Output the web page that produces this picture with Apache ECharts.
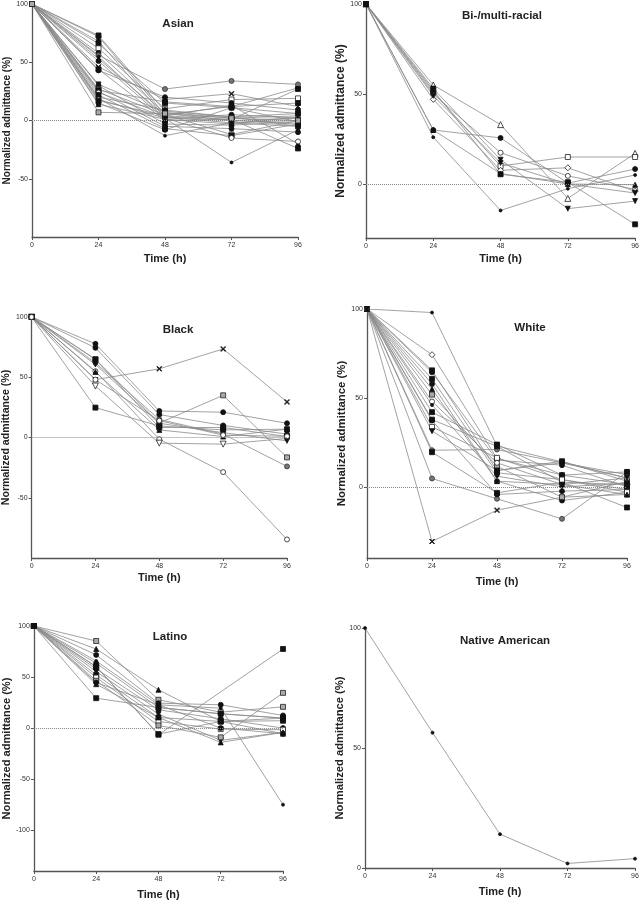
<!DOCTYPE html>
<html>
<head>
<meta charset="utf-8">
<script src="https://cdn.jsdelivr.net/npm/echarts@6/dist/echarts.min.js"></script>
<style>
html, body { margin: 0; padding: 0; background: #fff; }
#main { width: 642px; height: 902px; }
</style>
</head>
<body>
<div id="main"></div>
<script>
// time points (h)
var hours = [0, 24, 48, 72, 96];

// one row per subject: values at 0, 24, 48, 72, 96 h
var asian = [
    [100, 72, 5, 12, 28], [100, 73, 8, 3, -5], [100, 68, 3, -2, 0], [100, 66, 15, 11, 6],
    [100, 62, 10, 18, 19], [100, 58, 6, 0, -3], [100, 56, 27, 34, 31], [100, 55, 2, -36, -8],
    [100, 53, 4, 13, -20], [100, 51, 1, 5, 2], [100, 46, 18, 23, 12], [100, 44, 0, 1, -24],
    [100, 43, 20, 15, 9], [100, 31, 7, 2, 4], [100, 30, -3, -4, -1], [100, 27, 5, -12, 0],
    [100, 26, 16, 12, 15], [100, 25, -5, -7, -10], [100, 24, 3, 0, 2], [100, 22, -7, -13, -3],
    [100, 20, 9, 3, 6], [100, 19, -13, -2, -5], [100, 18, 2, -15, -18], [100, 17, 4, 1, 27],
    [100, 15, -8, 11, -1], [100, 14, 1, -3, 3], [100, 7, 6, 2, 0]
];
var asianMarks = ['dot', 'sq', 'dot', 'sq', 'osq', 'dot', 'gdot', 'star', 'tri', 'dot', 'x', 'sq',
    'dot', 'inv', 'dot', 'xsq', 'sq', 'dot', 'odot', 'sq', 'dot', 'star', 'odot', 'sq', 'dot', 'tri', 'xsq'];

var multi = [
    [100, 55, 33, -8, 17], [100, 30, 25.6, 0.5, 8.3], [100, 50, 17.4, 4.5, -3],
    [100, 53, 13.5, -13.7, -9.5], [100, 51, 10, 15, 15], [100, 47, 7.6, 9, -4],
    [100, 52, 5.4, 1, -22.4], [100, 26, -14.7, -2.6, 5], [100, 30, 5.8, 0, -0.4],
    [100, 49, 11.7, 0, -5]
];
var multiMarks = ['otri', 'dot', 'odot', 'inv', 'osq', 'odia', 'sq', 'star', 'tri', 'inv'];

var black = [
    [100, 48, 57, 73.5, 29.5], [100, 65, 12, 35, -16.5], [100, 77.7, 22, 21, 11.8],
    [100, 55, -1.4, -28.7, -84.6], [100, 42.7, -4.7, -5.5, -0.8], [100, 24.8, 9.6, 6.3, 6.9],
    [100, 62, 15, 2.8, -24], [100, 74.4, 19, 10, 2.8], [100, 64.7, 8.3, 8.3, 0.8],
    [100, 60.6, 11.8, 4, -2.8], [100, 54.4, 6.3, 0.8, 6.9], [100, 48, 14, 2, 1]
];
var blackMarks = ['x', 'xsq', 'dot', 'odot', 'oinv', 'sq', 'gdot', 'dot', 'sq', 'inv', 'tri', 'odot'];

var white = [
    [100, 98, 23, 14, 5], [100, -30.7, -13.1, -5.8, 3], [100, 74.3, 16, 6.6, 1.3],
    [100, 4.7, -6.7, -18, 8.4], [100, 20.6, 21, 13.5, 6.9], [100, 19.5, -3.4, 2.6, -11.6],
    [100, 65.5, 9.2, 14.4, 3.2], [100, 64.4, 15, 12.2, 0], [100, 60.7, 7.9, 4.1, -1.5],
    [100, 57.9, 3.2, -7.7, -3], [100, 51.9, 11.6, -5.8, -4.3], [100, 48, 13.5, 1.3, 5],
    [100, 46, 6, 0, 2], [100, 42, 23.8, 6.6, 8.4], [100, 37.8, 22.8, 2.6, 1.3],
    [100, 37.3, -4.3, -2.4, -1.5], [100, 33.7, 16.3, 4.1, -3], [100, 31.3, 9.2, 13.5, 5],
    [100, 55, 3.2, 1.3, -4.3]
];
var whiteMarks = ['star', 'x', 'odia', 'gdot', 'gdot', 'sq', 'sq', 'dot', 'sq', 'dot', 'xsq', 'odot',
    'star', 'sq', 'sq', 'dot', 'osq', 'inv', 'tri'];

var latino = [
    [100, 85.3, 27.7, 15.6, 20.8], [100, 77.5, 37.5, 6.5, -5.5], [100, 71.7, 24.4, 22.8, 12.4],
    [100, 65.8, 22.8, 19.5, -75], [100, 63.5, 20.2, 14, 9.8], [100, 60.3, -6.5, null, 77.5],
    [100, 58, 17.9, 9.1, 0], [100, 55.4, 13.7, -12, -4.2], [100, 52.1, 10.4, 6.5, 7.2],
    [100, 49.5, 6.5, -1, -1.6], [100, 46.3, 2.6, -9.1, 34.5], [100, 44.6, 22.8, 0, -5.5],
    [100, 43, 10.4, -14, -4.2], [100, 29.3, 20.2, 14, 9.8], [100, 60, -5.9, 6.5, 9.8]
];
var latinoMarks = ['xsq', 'tri', 'dot', 'star', 'dot', 'sq', 'dot', 'inv', 'sq', 'osq', 'xsq', 'dot',
    'tri', 'sq', 'sq'];

var nativeAm = [
    [100, 56.4, 14.1, 1.9, 3.9]
];
var nativeMarks = ['star'];

var titles = ['Asian', 'Bi-/multi-racial', 'Black', 'White', 'Latino', 'Native American'];

var FONT = '"Liberation Sans", Arial, sans-serif';

var marks = {
    dot:  { symbol: 'circle', size: 5, color: '#111', border: '#111' },
    sq:   { symbol: 'rect', size: 5, color: '#111', border: '#111' },
    tri:  { symbol: 'triangle', size: 5, color: '#111', border: '#111' },
    inv:  { symbol: 'path://M0,0L10,0L5,9Z', size: 5, color: '#111', border: '#111' },
    star: { symbol: 'circle', size: 3, color: '#111', border: '#111' },
    odot: { symbol: 'circle', size: 5, color: '#fff', border: '#222' },
    osq:  { symbol: 'rect', size: 5, color: '#fff', border: '#222' },
    otri: { symbol: 'triangle', size: 6, color: '#fff', border: '#222' },
    oinv: { symbol: 'path://M0,0L10,0L5,9Z', size: 6, color: '#fff', border: '#222' },
    odia: { symbol: 'diamond', size: 6, color: '#fff', border: '#222' },
    gdot: { symbol: 'circle', size: 5, color: '#777', border: '#333' },
    xsq:  { symbol: 'rect', size: 5, color: '#aaa', border: '#222' },
    x:    { symbol: 'path://M0,1L1,0L5,4L9,0L10,1L6,5L10,9L9,10L5,6L1,10L0,9L4,5Z', size: 5, color: '#111', border: '#111' }
};

var panels = [
    { data: asian, marks: asianMarks, grid: { left: 32, top: 4, width: 266, height: 233 }, min: -100, ticks: [-50, 0, 50, 100], title: [173, 13], yFont: 10, yGap: 19, xGap: 16 },
    { data: multi, marks: multiMarks, grid: { left: 366, top: 4, width: 271, height: 234 }, min: -30, ticks: [0, 50, 100], title: [497, 5], yFont: 12, yGap: 18, xGap: 15 },
    { data: black, marks: blackMarks, grid: { left: 30, top: 317, width: 257, height: 241 }, min: -100, ticks: [-50, 0, 50, 100], title: [173, 319], yFont: 10.6, yGap: 17, xGap: 14 },
    { data: white, marks: whiteMarks, grid: { left: 367, top: 309, width: 260, height: 249 }, min: -40, ticks: [0, 50, 100], title: [525, 317], yFont: 11.4, yGap: 19, xGap: 18 },
    { data: latino, marks: latinoMarks, grid: { left: 32, top: 626, width: 251, height: 245 }, min: -140, ticks: [-100, -50, 0, 50, 100], title: [165, 626], yFont: 11.1, yGap: 19, xGap: 18 },
    { data: nativeAm, marks: nativeMarks, grid: { left: 365, top: 628, width: 270, height: 240 }, min: 0, ticks: [0, 50, 100], title: [500, 630], yFont: 11.2, yGap: 19, xGap: 18 }
];

var axisCol = '#555';
var grids = [], xAxes = [], yAxes = [], series = [], titleList = [];

panels.forEach(function (p, i) {
    grids.push(p.grid);
    titleList.push({
        text: titles[i], left: p.title[0], top: p.title[1], textAlign: 'center',
        textStyle: { fontFamily: FONT, fontSize: 11.5, fontWeight: 'bold', color: '#222' }
    });
    xAxes.push({
        gridIndex: i, type: 'value', min: 0, max: 96, interval: 24,
        name: 'Time (h)', nameLocation: 'middle', nameGap: p.xGap,
        nameTextStyle: { fontFamily: FONT, fontSize: 11, fontWeight: 'bold', color: '#222' },
        axisLine: { show: true, onZero: false, lineStyle: { color: axisCol, width: 1.3 } },
        axisTick: { show: true, length: 3, lineStyle: { color: axisCol } },
        axisLabel: { fontFamily: FONT, fontSize: 7, color: '#333', margin: 5 },
        splitLine: { show: false }
    });
    yAxes.push({
        gridIndex: i, type: 'value', min: p.min, max: 100, interval: 10,
        name: 'Normalized admittance (%)', nameLocation: 'middle', nameGap: p.yGap,
        nameTextStyle: { fontFamily: FONT, fontSize: p.yFont, fontWeight: 'bold', color: '#222' },
        axisLine: { show: true, onZero: false, lineStyle: { color: axisCol, width: 1.3 } },
        axisTick: { show: true, length: 3, lineStyle: { color: axisCol }, customValues: p.ticks },
        axisLabel: { fontFamily: FONT, fontSize: 7, color: '#333', margin: 4, customValues: p.ticks },
        splitLine: { show: false }
    });
    p.data.forEach(function (row, j) {
        var m = marks[p.marks[j]];
        var s = {
            type: 'line', xAxisIndex: i, yAxisIndex: i,
            data: hours.map(function (h, k) { return [h, row[k] === null ? '-' : row[k]]; }),
            connectNulls: true,
            symbol: m.symbol, symbolSize: m.size, showAllSymbol: true,
            itemStyle: { color: m.color, borderColor: m.border, borderWidth: 0.8 },
            lineStyle: { color: '#8a8a8a', width: 0.8 },
            animation: false, silent: true
        };
        if (j === 0 && p.min < 0) {
            s.markLine = {
                silent: true, symbol: ['none', 'none'], label: { show: false },
                lineStyle: { type: 'dotted', color: '#888', width: 1 },
                data: [{ yAxis: 0 }]
            };
        }
        series.push(s);
    });
});

var myChart = echarts.init(document.getElementById('main'));
var option = {
    animation: false,
    backgroundColor: '#fff',
    title: titleList,
    grid: grids,
    xAxis: xAxes,
    yAxis: yAxes,
    series: series
};
myChart.setOption(option);
</script>
</body>
</html>
